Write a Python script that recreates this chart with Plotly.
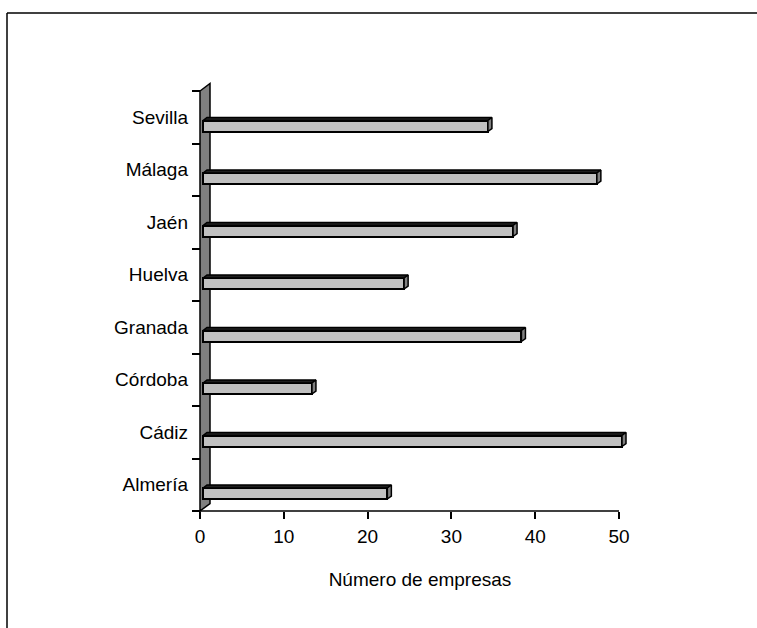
import plotly.graph_objects as go

# Data: number of companies per province (bottom to top)
provinces = ["Almería", "Cádiz", "Córdoba", "Granada", "Huelva", "Jaén", "Málaga", "Sevilla"]
companies = [22, 50, 13, 38, 24, 37, 47, 34]
x_ticks = [0, 10, 20, 30, 40, 50]
x_title = "Número de empresas"

# Page / plot-area geometry (pixels)
FIG_W, FIG_H = 757, 628
L, R_PX, T, B_PX = 190, 650, 75, 520
X0_PX, YB_PX = 200, 511          # pixel of value 0 and of the category floor
PX = (619 - X0_PX) / 50.0        # pixels per value unit
PY = 52.5                        # pixels per category

XMIN = -(X0_PX - L) / PX
XMAX = (R_PX - X0_PX) / PX
YMIN = -0.5 - (B_PX - YB_PX) / PY
YMAX = -0.5 + (YB_PX - T) / PY

# Oblique depth of the 3D wall, in data units
WX = 10 / PX
WY = 7.5 / PY
F1, F2 = 0.3, 0.7                # front / back depth of the bars
BAR_H = 11 / PY
BAR_OFF = -8.75 / PY

FACE = "#C0C0C0"
SIDE = "#808080"
TOP = "#202020"

n = len(provinces)
pos = [i + BAR_OFF for i in range(n)]
base = F1 * WX
ddx = (F2 - F1) * WX
ddy = (F2 - F1) * WY

fig = go.Figure()

# front faces of the bars
fig.add_trace(go.Bar(
    y=pos, x=companies, base=base, orientation="h", width=BAR_H,
    marker=dict(color=FACE, line=dict(color="black", width=2)),
    showlegend=False, hoverinfo="x"))

# top and right faces
tx, ty, rx, ry = [], [], [], []
for p, v in zip(pos, companies):
    yt, yb = p + BAR_H / 2, p - BAR_H / 2
    x1 = base + v
    tx += [base, x1, x1 + ddx, base + ddx, base, None]
    ty += [yt, yt, yt + ddy, yt + ddy, yt, None]
    rx += [x1, x1, x1 + ddx, x1 + ddx, x1, None]
    ry += [yb, yt, yt + ddy, yb + ddy, yb, None]

fig.add_trace(go.Scatter(x=tx, y=ty, mode="lines", fill="toself", fillcolor=TOP,
                         line=dict(color="black", width=1.5),
                         hoverinfo="skip", showlegend=False))
fig.add_trace(go.Scatter(x=rx, y=ry, mode="lines", fill="toself", fillcolor=SIDE,
                         line=dict(color="black", width=1.5),
                         hoverinfo="skip", showlegend=False))

# value axis line
fig.add_trace(go.Scatter(x=[x_ticks[0], x_ticks[-1]], y=[-0.5, -0.5], mode="lines",
                         line=dict(color="black", width=1.5),
                         hoverinfo="skip", showlegend=False))

font = dict(family="Liberation Sans, Arial, sans-serif", size=19, color="black")

x_pos = (-0.5 - YMIN) / (YMAX - YMIN)
y_pos = (0 - XMIN) / (XMAX - XMIN)

# chart frame in paper coordinates
W = R_PX - L
H = B_PX - T
def px_to_paper_x(p):
    return (p - L) / W
def px_to_paper_y(p):
    return (B_PX - p) / H

frame_line = dict(color="black", width=1.5)
wall_path = "M {a},{b} L {a},{c} L {d},{e} L {d},{f} Z".format(
    a=0, b=-0.5, c=n - 0.5, d=WX, e=n - 0.5 + WY, f=-0.5 + WY)

fig.update_layout(
    width=FIG_W, height=FIG_H, template="none",
    margin=dict(l=L, r=FIG_W - R_PX, t=T, b=FIG_H - B_PX, autoexpand=False),
    paper_bgcolor="white", plot_bgcolor="rgba(0,0,0,0)",
    font=font, bargap=0,
    xaxis=dict(range=[XMIN, XMAX], anchor="free", position=x_pos,
               tickvals=x_ticks, ticktext=[str(t) for t in x_ticks],
               ticks="outside", ticklen=7, tickwidth=1.5, tickcolor="black",
               ticklabelstandoff=1,
               showline=False, showgrid=False, zeroline=False, automargin=False,
               title=dict(text=x_title, font=font, standoff=26)),
    yaxis=dict(range=[YMIN, YMAX], anchor="free", position=y_pos,
               tickvals=list(range(n)), ticktext=provinces,
               ticks="", ticklabelstandoff=12,
               minor=dict(tickvals=[i - 0.5 for i in range(n + 1)],
                          ticks="outside", ticklen=8, tickwidth=1.5,
                          tickcolor="black", showgrid=False),
               showline=False, showgrid=False, zeroline=False, automargin=False),
    shapes=[
        # back wall of the 3D plot, beneath the bars
        dict(type="path", xref="x", yref="y", path=wall_path,
             fillcolor=SIDE, line=dict(color="black", width=1.5), layer="below"),
        # chart frame
        dict(type="line", xref="paper", yref="paper",
             x0=px_to_paper_x(7), x1=px_to_paper_x(FIG_W + 40),
             y0=px_to_paper_y(13), y1=px_to_paper_y(13), line=frame_line),
        dict(type="line", xref="paper", yref="paper",
             x0=px_to_paper_x(7), x1=px_to_paper_x(7),
             y0=px_to_paper_y(13), y1=px_to_paper_y(FIG_H + 40), line=frame_line),
    ],
)

fig.write_html("out.html")
